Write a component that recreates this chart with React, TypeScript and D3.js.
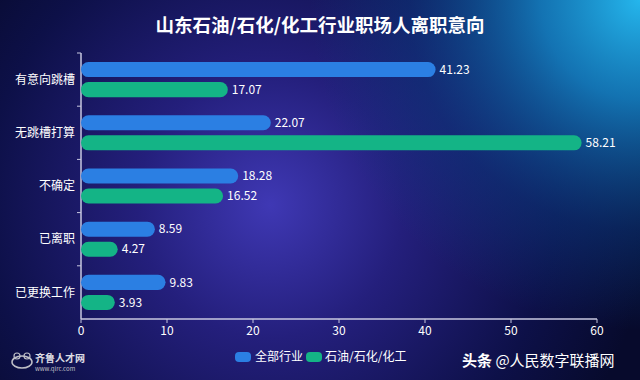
import React from "react";
import * as d3 from "d3";

const categories = ["有意向跳槽", "无跳槽打算", "不确定", "已离职", "已更换工作"];
const seriesNames = ["全部行业", "石油/石化/化工"];
const allIndustry = [41.23, 22.07, 18.28, 8.59, 9.83];
const petro = [17.07, 58.21, 16.52, 4.27, 3.93];
const xTicks = [0, 10, 20, 30, 40, 50, 60];
const colors = ["#2b7fe3", "#14b486"];

const W = 640, H = 380;
const left = 81, right = 597, top = 53, bottom = 319;

export default function App() {
  const x = d3.scaleLinear().domain([0, 60]).range([left, right]);
  const y = d3.scaleBand().domain(categories).range([top, bottom]);
  const inner = d3.scaleBand().domain(seriesNames).range([0, y.bandwidth()]).paddingInner(0.25).paddingOuter(0.45);
  const bh = inner.bandwidth();
  const series = [allIndustry, petro];
  const font = "'Noto Sans CJK SC', 'Noto Sans', sans-serif";
  return (
    <svg width={W} height={H} style={{ position: "absolute", left: 0, top: 0 }} fontFamily={font}>
      <defs>
        <radialGradient id="bg" cx="270" cy="205" r="380" gradientUnits="userSpaceOnUse">
          <stop offset="0" stopColor="#3f38b4" />
          <stop offset="0.35" stopColor="#241f7c" />
          <stop offset="0.75" stopColor="#0d1048" />
          <stop offset="1" stopColor="#070a2c" />
        </radialGradient>
        <radialGradient id="glow" cx="640" cy="0" r="330" gradientUnits="userSpaceOnUse">
          <stop offset="0" stopColor="#25b6ec" stopOpacity="1" />
          <stop offset="0.3" stopColor="#1585c8" stopOpacity="0.85" />
          <stop offset="0.7" stopColor="#0b4088" stopOpacity="0.45" />
          <stop offset="1" stopColor="#0b3f86" stopOpacity="0" />
        </radialGradient>
      </defs>
      <rect width={W} height={H} fill="url(#bg)" />
      <rect width={W} height={H} fill="url(#glow)" />
      <text x={320} y={32} textAnchor="middle" fill="#fff" fontSize={18.5} fontWeight="bold">
        山东石油/石化/化工行业职场人离职意向
      </text>
      <line x1={left} x2={left} y1={top} y2={bottom} stroke="#c8c8e0" strokeWidth={1.5} />
      <line x1={left} x2={right} y1={bottom} y2={bottom} stroke="#c8c8e0" strokeWidth={1.5} />
      {categories.map((c, i) => (
        <line key={"yt" + i} x1={left - 4} x2={left} y1={y(c)!} y2={y(c)!} stroke="#c8c8e0" />
      ))}
      {xTicks.map((t) => (
        <g key={"xt" + t}>
          <line x1={x(t)} x2={x(t)} y1={bottom} y2={bottom + 4} stroke="#c8c8e0" />
          <text x={x(t)} y={bottom + 16} textAnchor="middle" fill="#fff" fontSize={12}>{t}</text>
        </g>
      ))}
      {categories.map((c) => (
        <text key={"cl" + c} x={left - 6} y={y(c)! + y.bandwidth() / 2} dy="0.35em" textAnchor="end" fill="#fff" fontSize={12}>
          {c}
        </text>
      ))}
      {series.map((vals, si) =>
        vals.map((v, i) => {
          const yy = y(categories[i])! + inner(seriesNames[si])!;
          return (
            <g key={"b" + si + "-" + i}>
              <rect x={x(0)} y={yy} width={x(v) - x(0)} height={bh} rx={bh / 2} fill={colors[si]} />
              <text x={x(v) + 4} y={yy + bh / 2} dy="0.35em" fill="#fff" fontSize={12}>{v.toFixed(2)}</text>
            </g>
          );
        })
      )}
      <rect x={235} y={352} width={16} height={10} rx={4} fill={colors[0]} />
      <text x={255} y={357} dy="0.35em" fill="#fff" fontSize={12}>{seriesNames[0]}</text>
      <rect x={306} y={352} width={16} height={10} rx={4} fill={colors[1]} />
      <text x={325} y={357} dy="0.35em" fill="#fff" fontSize={12}>{seriesNames[1]}</text>
      <g opacity={0.85}>
        <ellipse cx={22} cy={362} rx={10} ry={6} fill="none" stroke="#ddd" strokeWidth={1.5} />
        <circle cx={17} cy={356} r={3} fill="none" stroke="#ddd" strokeWidth={1.2} />
        <circle cx={27} cy={356} r={3} fill="none" stroke="#ddd" strokeWidth={1.2} />
        <text x={35} y={362} fill="#fff" fontSize={10} fontWeight="bold">齐鲁人才网</text>
        <text x={35} y={371} fill="#ddd" fontSize={6}>www.qlrc.com</text>
      </g>
      <text x={462} y={361} dy="0.35em" fill="#fff" fontSize={15}>
        <tspan fontWeight="bold">头条</tspan> @人民数字联播网
      </text>
    </svg>
  );
}
